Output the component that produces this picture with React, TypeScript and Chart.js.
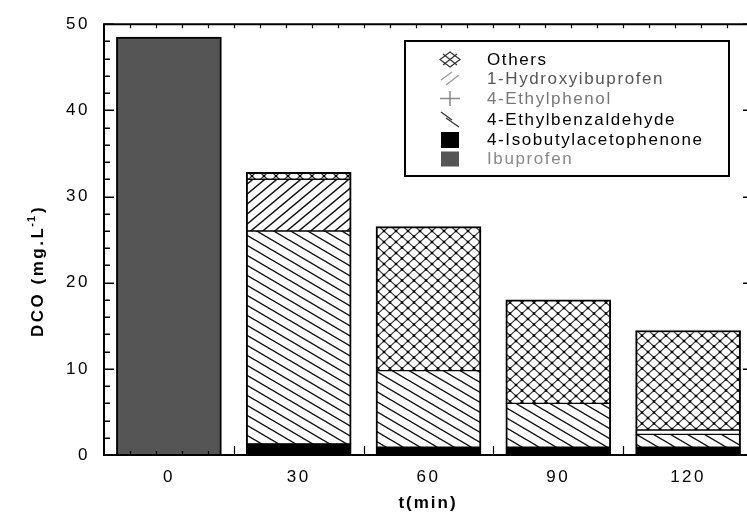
import React, { useEffect, useRef } from 'react';
import { Chart, registerables } from 'chart.js';

Chart.register(...registerables);

// ---- data ----
const times = ['0', '30', '60', '90', '120'];
const ibuprofen = [48.5, null, null, null, null];
const isobutylacetophenone = [null, 1.3, 0.9, 0.9, 0.9];
const ethylbenzaldehyde = [null, 24.7, 8.9, 5.1, 1.5];
const ethylphenol = [null, null, null, null, 0.5];
const hydroxyibuprofen = [null, 6.0, null, null, null];
const others = [null, 0.8, 16.7, 12.0, 11.55];
const yMin = 0;
const yMax = 50;
const yStep = 10;
const xTitle = 't(min)';
const yTitleMain = 'DCO (mg.L';
const yTitleSup = '-1';
const yTitleEnd = ')';
const legendLabels = [
  'Others',
  '1-Hydroxyibuprofen',
  '4-Ethylphenol',
  '4-Ethylbenzaldehyde',
  '4-Isobutylacetophenone',
  'Ibuprofen',
];
const legendColors = ['#000', '#555', '#777', '#000', '#000', '#888'];

const FONT = '"Liberation Sans", Arial, sans-serif';

function tile(
  ctx: CanvasRenderingContext2D,
  w: number,
  h: number,
  lw: number,
  draw: (g: CanvasRenderingContext2D, w: number, h: number) => void
) {
  const c = document.createElement('canvas');
  c.width = w;
  c.height = h;
  const g = c.getContext('2d')!;
  g.fillStyle = '#fff';
  g.fillRect(0, 0, w, h);
  g.strokeStyle = '#111';
  g.lineWidth = lw;
  draw(g, w, h);
  return ctx.createPattern(c, 'repeat')!;
}

function desc(g: CanvasRenderingContext2D, w: number, h: number) {
  g.beginPath();
  for (let k = -1; k <= 1; k++) {
    g.moveTo(k * w - w * 0.2, -h * 0.2);
    g.lineTo(k * w + w * 1.2, h * 1.2);
  }
  g.stroke();
}
function asc(g: CanvasRenderingContext2D, w: number, h: number) {
  g.beginPath();
  for (let k = -1; k <= 1; k++) {
    g.moveTo(k * w - w * 0.2, h * 1.2);
    g.lineTo(k * w + w * 1.2, -h * 0.2);
  }
  g.stroke();
}

export default function App() {
  const ref = useRef<HTMLCanvasElement>(null);

  useEffect(() => {
    const canvas = ref.current!;
    const ctx = canvas.getContext('2d')!;
    const pDesc = tile(ctx, 17, 10, 1.4, desc);
    const pAsc = tile(ctx, 12, 10, 1.4, asc);
    const pCross = tile(ctx, 12, 11, 1.1, (g, w, h) => {
      g.strokeStyle = '#333';
      desc(g, w, h);
      asc(g, w, h);
      g.fillStyle = '#000';
      const pts = [
        [w / 2, h / 2],
        [0, 0],
        [w, 0],
        [0, h],
        [w, h],
      ];
      for (const [x, y] of pts) g.fillRect(x - 1.2, y - 1.2, 2.4, 2.4);
    });

    const base = {
      borderColor: '#000',
      borderSkipped: false as const,
      barThickness: 105,
    };
    const mid = { top: 1, bottom: 1, left: 2, right: 2 };

    const framePlugin = {
      id: 'frame',
      beforeLayout(chart: any) {
        chart.ctx.letterSpacing = '2.5px';
      },
      beforeDraw(chart: any) {
        chart.ctx.letterSpacing = '2.5px';
      },
      afterDatasetsDraw(chart: any) {
        const c = chart.ctx as CanvasRenderingContext2D;
        const { left, right, top, bottom } = chart.chartArea;
        const ys = chart.scales.y;
        const xs = chart.scales.x;
        c.save();
        c.letterSpacing = '0px';
        c.strokeStyle = '#000';
        // y ticks
        c.lineWidth = 1.5;
        c.beginPath();
        for (let v = yMin; v <= yMax; v += 2) {
          const y = Math.round(ys.getPixelForValue(v)) + 0.25;
          const len = v % 10 === 0 ? 10 : 6;
          c.moveTo(left, y);
          c.lineTo(left + len, y);
          if (v % 10 === 0) {
            c.moveTo(right, y);
            c.lineTo(right - 10, y);
          }
        }
        c.stroke();
        // x ticks
        const x0 = xs.getPixelForValue(0);
        const pxPerUnit = (xs.getPixelForValue(1) - x0) / 30;
        c.lineWidth = 1.2;
        c.beginPath();
        for (let t = -9; t <= 135; t += 6) {
          const x = Math.round(x0 + t * pxPerUnit) + 0.5;
          if (x < left || x > right) continue;
          const len = (t - 15) % 30 === 0 ? 9 : 4;
          c.moveTo(x, bottom);
          c.lineTo(x, bottom - len);
          c.moveTo(x, top);
          c.lineTo(x, top + 4);
        }
        c.stroke();
        // frame
        c.lineWidth = 2;
        c.beginPath();
        c.moveTo(left, top);
        c.lineTo(left, bottom);
        c.moveTo(left - 1, bottom);
        c.lineTo(right, bottom);
        c.moveTo(left - 1, top);
        c.lineTo(right, top);
        c.moveTo(right, top);
        c.lineTo(right, bottom);
        c.stroke();
        c.restore();
      },
      afterDraw(chart: any) {
        const c = chart.ctx as CanvasRenderingContext2D;
        c.save();
        c.fillStyle = '#000';
        // x title
        c.letterSpacing = '2px';
        c.font = `bold 17px ${FONT}`;
        c.textAlign = 'center';
        c.textBaseline = 'middle';
        c.fillText(xTitle, 428, 503);
        // y title
        c.save();
        c.translate(38, 337);
        c.rotate(-Math.PI / 2);
        c.textAlign = 'left';
        c.textBaseline = 'middle';
        c.letterSpacing = '2.5px';
        c.font = `bold 17px ${FONT}`;
        c.fillText(yTitleMain, 0, 0);
        let w = c.measureText(yTitleMain).width;
        c.font = `bold 11px ${FONT}`;
        c.letterSpacing = '1px';
        c.fillText(yTitleSup, w - 1, -6);
        w += c.measureText(yTitleSup).width;
        c.font = `bold 17px ${FONT}`;
        c.fillText(yTitleEnd, w + 1, 0);
        c.restore();

        // legend
        c.lineWidth = 2;
        c.strokeStyle = '#000';
        c.strokeRect(405, 41, 324, 135);
        const baselines = [64.5, 83.5, 103.5, 124.5, 145, 163.5];
        c.font = `17px ${FONT}`;
        c.textAlign = 'left';
        c.textBaseline = 'alphabetic';
        c.letterSpacing = '1.6px';
        legendLabels.forEach((lab, i) => {
          c.fillStyle = legendColors[i];
          c.fillText(lab, 487, baselines[i]);
        });
        c.letterSpacing = '0px';
        // symbols
        c.lineWidth = 1.2;
        c.strokeStyle = '#333';
        c.beginPath();
        c.moveTo(450, 52);
        c.lineTo(460, 59.5);
        c.lineTo(450, 67);
        c.lineTo(440, 59.5);
        c.closePath();
        c.moveTo(443, 54);
        c.lineTo(457, 65);
        c.moveTo(443, 65);
        c.lineTo(457, 54);
        c.stroke();
        c.strokeStyle = '#999';
        c.lineWidth = 1.3;
        c.beginPath();
        c.moveTo(441, 80);
        c.lineTo(452, 72);
        c.moveTo(446, 85);
        c.lineTo(459, 75);
        c.stroke();
        c.strokeStyle = '#888';
        c.lineWidth = 1.5;
        c.beginPath();
        c.moveTo(440, 98.5);
        c.lineTo(460, 98.5);
        c.moveTo(450, 91);
        c.lineTo(450, 106);
        c.stroke();
        c.strokeStyle = '#333';
        c.lineWidth = 1.3;
        c.beginPath();
        c.moveTo(441, 112);
        c.lineTo(452, 120);
        c.moveTo(446, 118);
        c.lineTo(459, 127);
        c.stroke();
        c.fillStyle = '#000';
        c.fillRect(441, 132, 18, 16);
        c.fillStyle = '#555';
        c.fillRect(441, 151.5, 18, 15);
        c.restore();
      },
    };

    const chart = new Chart(canvas, {
      type: 'bar',
      data: {
        labels: times,
        datasets: [
          { ...base, label: legendLabels[5], data: ibuprofen, backgroundColor: '#555555', borderWidth: { top: 2, bottom: 1, left: 2, right: 2 } },
          { ...base, label: legendLabels[4], data: isobutylacetophenone, backgroundColor: '#000000', borderWidth: mid },
          { ...base, label: legendLabels[3], data: ethylbenzaldehyde, backgroundColor: pDesc, borderWidth: mid },
          { ...base, label: legendLabels[2], data: ethylphenol, backgroundColor: '#ffffff', borderWidth: mid },
          { ...base, label: legendLabels[1], data: hydroxyibuprofen, backgroundColor: pAsc, borderWidth: mid },
          { ...base, label: legendLabels[0], data: others, backgroundColor: pCross, borderWidth: { top: 2, bottom: 1, left: 2, right: 2 } },
        ] as any,
      },
      options: {
        animation: false,
        responsive: false,
        devicePixelRatio: 1,
        layout: { padding: { left: 0, top: 22, right: 7, bottom: 0 } },
        plugins: {
          legend: { display: false },
          tooltip: { enabled: false },
        },
        scales: {
          x: {
            stacked: true,
            grid: { display: false, drawTicks: false },
            border: { display: false },
            ticks: {
              color: '#000',
              padding: 12,
              font: { family: FONT, size: 17 },
            },
            afterFit: (s: any) => {
              s.height = 58;
            },
          },
          y: {
            stacked: true,
            min: yMin,
            max: yMax,
            grid: { display: false, drawTicks: false },
            border: { display: false },
            ticks: {
              stepSize: yStep,
              color: '#000',
              padding: 14,
              font: { family: FONT, size: 17 },
            },
            afterFit: (s: any) => {
              s.width = 104;
            },
          },
        },
      },
      plugins: [framePlugin],
    });
    return () => chart.destroy();
  }, []);

  return (
    <div
      style={{
        position: 'fixed',
        left: 0,
        top: 0,
        width: 747,
        height: 513,
        overflow: 'hidden',
        background: '#fff',
      }}
    >
      <canvas ref={ref} width={760} height={513} style={{ display: 'block', width: 760, height: 513 }} />
    </div>
  );
}
